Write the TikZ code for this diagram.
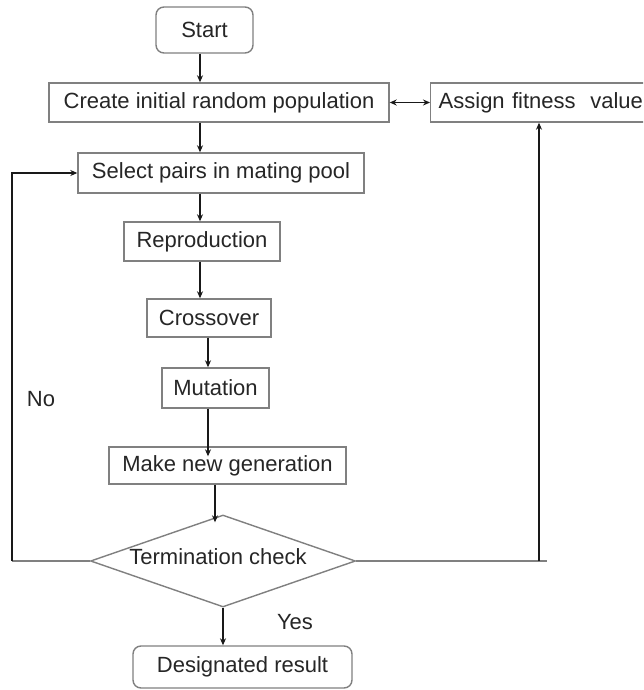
\documentclass[tikz,border=0pt]{standalone}
\usepackage{fontspec}
\setmainfont{Liberation Sans}
\usetikzlibrary{arrows.meta,shapes.geometric}
\begin{document}
\begin{tikzpicture}[x=1pt,y=-1pt,
  every node/.style={font=\fontsize{22}{26}\selectfont, text=black!85},
  box/.style={draw=black!50, line width=1.4pt, rectangle, inner sep=0pt},
  rbox/.style={box, rounded corners=8pt},
  lbl/.style={inner sep=0pt},
  arr/.style={draw=black!90, line width=1.3pt, -{Stealth[length=7pt,width=6pt]}},
  arr2/.style={draw=black!90, line width=1.3pt, {Stealth[length=7pt,width=6pt]}-{Stealth[length=7pt,width=6pt]}},
  ln/.style={draw=black!50, line width=1.4pt}]
\clip (0,0) rectangle (643,690);
\fill[white] (0,0) rectangle (643,690);
\node[rbox, minimum width=97pt, minimum height=46pt] (start) at (204.5,30) {Start};
\node[box, minimum width=340pt, minimum height=39pt] (create) at (219,102.5) {Create initial random population};
\node[box, minimum width=240pt, minimum height=39pt, anchor=west, inner xsep=8pt, text width=224pt, align=left] (assign) at (430,102.5) {Assign fitness\ \ value};
\node[box, minimum width=286pt, minimum height=40pt] (select) at (221,173) {Select pairs in mating pool};
\node[box, minimum width=156pt, minimum height=39pt] (repro) at (202,241.5) {Reproduction};
\node[box, minimum width=124pt, minimum height=38pt] (cross) at (209,318) {Crossover};
\node[box, minimum width=107pt, minimum height=40pt] (mut) at (215.5,388) {Mutation};
\node[box, minimum width=237pt, minimum height=37pt] (make) at (227.5,465.5) {Make new generation};
\node[box, diamond, minimum width=265pt, minimum height=92pt] (term) at (223,561) {};
\node[lbl] (termtxt) at (218,557) {Termination check};
\node[rbox, minimum width=219pt, minimum height=42pt] (result) at (242.5,667) {Designated result};
\node[lbl] (no) at (41,399) {No};
\node[lbl] (yes) at (295,622) {Yes};
\coordinate (c200) at (200,0);
\coordinate (c208) at (208,0);
\coordinate (c215) at (215,0);
\coordinate (c223) at (223,0);
\coordinate (lc) at (12,0);
\coordinate (ra) at (539,0);
\coordinate (rc) at (547,0);
\draw[arr] (start.south -| c200) -- (create.north -| c200);
\draw[arr] (create.south -| c200) -- (select.north -| c200);
\draw[arr] (select.south -| c200) -- (repro.north -| c200);
\draw[arr] (repro.south -| c200) -- (cross.north -| c200);
\draw[arr] (cross.south -| c208) -- (mut.north -| c208);
\draw[arr] (mut.south -| c208) -- ([yshift=-10pt]make.north -| c208);
\draw[arr] (make.south -| c215) -- ([yshift=-8pt]term.north -| c215);
\draw[arr] (term.south) -- (result.north -| c223);
\draw[arr2] (create.east) -- (assign.west);
\draw[ln] (term.west) -- (term.west -| lc);
\draw[arr] (term.west -| lc) |- (select.west);
\draw[ln] (term.east) -- (term.east -| rc);
\draw[arr] (term.east -| ra) -- (assign.south -| ra);
\end{tikzpicture}
\end{document}
